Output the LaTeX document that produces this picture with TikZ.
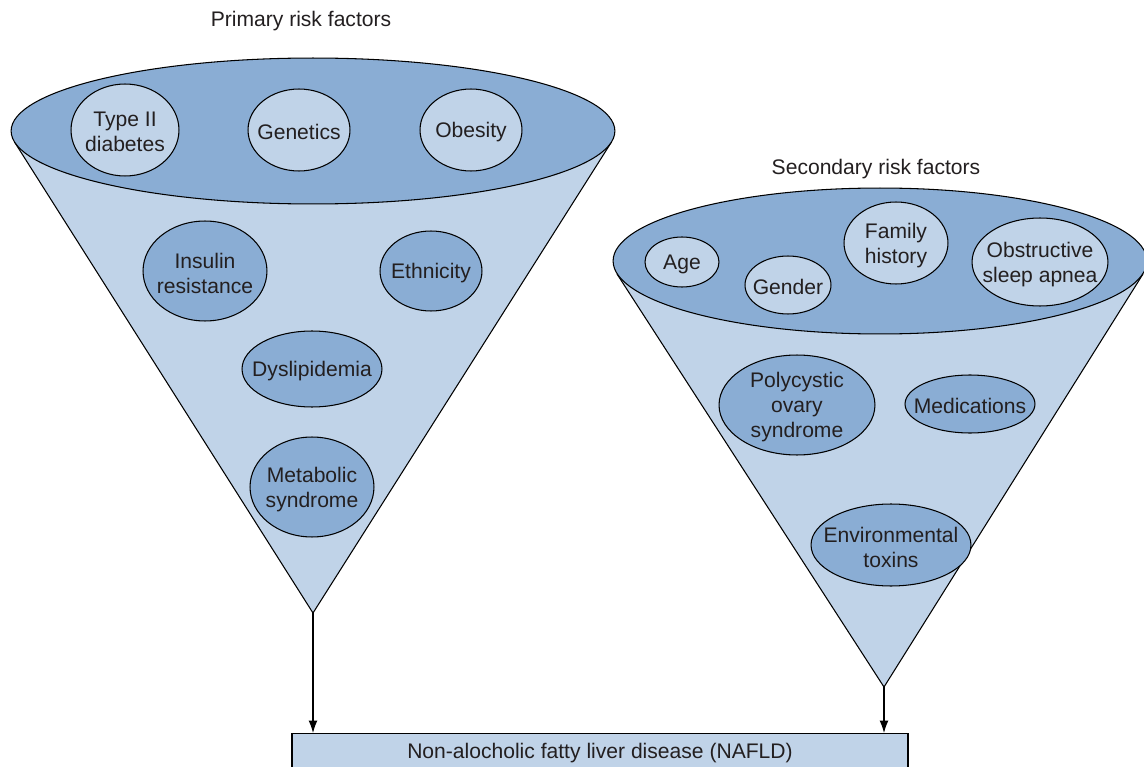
\documentclass[tikz,border=0pt]{standalone}
\usepackage{fontspec}
\setmainfont{Liberation Sans}
\usetikzlibrary{shapes.geometric,arrows.meta}
\definecolor{darkblue}{HTML}{8AADD4}
\definecolor{lightblue}{HTML}{C0D3E8}
\definecolor{txt}{HTML}{231F20}
\begin{document}
\begin{tikzpicture}[x=0.02cm,y=-0.02cm,
  every node/.style={font=\fontsize{12}{14.2}\selectfont, text=txt, align=center},
  sz/.style 2 args={minimum width=#1*0.04cm, minimum height=#2*0.04cm},
  bubble/.style={ellipse, draw=black, line width=0.6pt, inner sep=0pt},
  lightbub/.style={bubble, fill=lightblue},
  darkbub/.style={bubble, fill=darkblue},
  txtin/.style={label={[yshift=-1.2pt]center:{#1}}},
  cone/.style={fill=lightblue, draw=black, line width=0.6pt, line join=miter},
  arr/.style={-{Latex[length=7pt,width=5pt]}, line width=0.6pt, draw=black}
]
\useasboundingbox (0,0) rectangle (1144,767);

% ---------- primary funnel ----------
\coordinate (LA) at (313,613);
\filldraw[cone] (14.5,142) -- (LA) -- (611.5,142);
\node[darkbub, sz={302}{73}] (PE) at (313,131) {};
\node (PT) at (301,21) {Primary risk factors};

\node[lightbub, sz={54}{46}, txtin={Type II\\diabetes}] (t2d) at (125,130) {};
\node[lightbub, sz={51}{41}, txtin={Genetics}] (gen) at (299,130) {};
\node[lightbub, sz={51}{41}, txtin={Obesity}] (obe) at (471,130) {};
\node[darkbub, sz={62}{50}, txtin={Insulin\\resistance}] (ins) at (205,271) {};
\node[darkbub, sz={51}{40}, txtin={Ethnicity}] (eth) at (431,271) {};
\node[darkbub, sz={70}{38}, txtin={Dyslipidemia}] (dys) at (312,369) {};
\node[darkbub, sz={62}{50}, txtin={Metabolic\\syndrome}] (met) at (312,487) {};

% ---------- secondary funnel ----------
\coordinate (RA) at (884,687);
\filldraw[cone] (617,274) -- (RA) -- (1143,274);
\node[darkbub, sz={267}{73}] (SE) at (880,261) {};
\node (ST) at (876,169) {Secondary risk factors};

\node[lightbub, sz={37}{25}, txtin={Age}] (age) at (682,262) {};
\node[lightbub, sz={43}{29}, txtin={Gender}] (gnd) at (788,285) {};
\node[lightbub, sz={52}{41}, txtin={Family\\history}] (fam) at (896,243) {};
\node[lightbub, sz={68}{44}, txtin={Obstructive\\sleep apnea}] (osa) at (1040,262) {};
\node[darkbub, sz={78}{50}, txtin={Polycystic\\ovary\\syndrome}] (pcos) at (797,405) {};
\node[darkbub, sz={65}{29}, txtin={Medications}] (med) at (970,404) {};
\node[darkbub, sz={80}{41}, txtin={Environmental\\toxins}] (env) at (891,545) {};

% ---------- outcome ----------
\node[draw=black, line width=0.6pt, fill=lightblue, anchor=north,
      minimum width=616*0.02cm, minimum height=0.8cm, inner sep=0pt] (nafld) at (600,733) {};
\node (nafldt) at (600,753) {Non-alocholic fatty liver disease (NAFLD)};

\draw[arr] (LA) -- (LA |- nafld.north);
\draw[arr] (RA) -- (RA |- nafld.north);
\end{tikzpicture}
\end{document}
